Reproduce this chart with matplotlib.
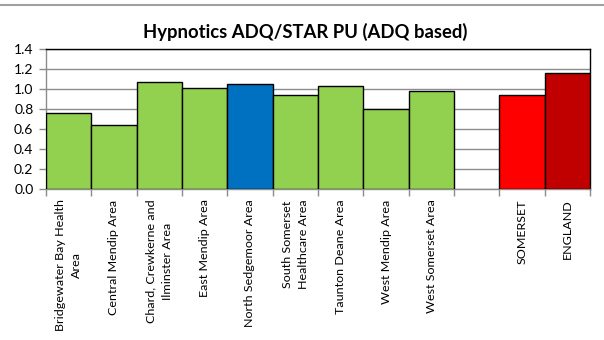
import matplotlib
matplotlib.use("Agg")
import matplotlib.pyplot as plt
from matplotlib.lines import Line2D

plt.rcParams['font.family'] = ['Lato', 'DejaVu Sans']

categories = ["Bridgewater Bay Health\nArea", "Central Mendip Area", "Chard, Crewkerne and\nIlminster Area",
              "East Mendip Area", "North Sedgemoor Area", "South Somerset\nHealthcare Area",
              "Taunton Deane Area", "West Mendip Area", "West Somerset Area", "", "SOMERSET", "ENGLAND"]
values = [0.76, 0.64, 1.07, 1.01, 1.05, 0.94, 1.03, 0.80, 0.98, None, 0.94, 1.16]
colors = ["#92D050"] * 4 + ["#0070C0"] + ["#92D050"] * 4 + ["#FFFFFF", "#FF0000", "#C00000"]
yticks = [0.0, 0.2, 0.4, 0.6, 0.8, 1.0, 1.2, 1.4]
title = "Hypnotics ADQ/STAR PU (ADQ based)"

W, H = 604, 340
fig = plt.figure(figsize=(W / 100, H / 100), dpi=100)
fig.patch.set_facecolor("white")
renderer = fig.canvas.get_renderer()


def fit_size(text, target_px, weight="normal"):
    t = fig.text(0, 0, text, fontsize=10, fontweight=weight)
    w = t.get_window_extent(renderer=renderer).width
    t.remove()
    return 10 * target_px / w


label_fs = min(fit_size("Central Mendip Area", 124), fit_size("Bridgewater Bay Health", 131))
title_fs = fit_size(title, 325, weight="bold")

fig.add_artist(Line2D([0, 1], [(H - 4.5) / H] * 2, transform=fig.transFigure,
                      color="#a0a0a0", linewidth=1.5))

ax = fig.add_axes([46 / W, (H - 189) / H, (590 - 46) / W, (189 - 49) / H])
n = len(categories)
xs = list(range(n))
for x, v, c in zip(xs, values, colors):
    if v is None:
        continue
    ax.bar(x, v, width=1.0, color=c, edgecolor="black", linewidth=1.0, zorder=3)

ax.set_xlim(-0.5, n - 0.5)
ax.set_ylim(0, 1.4)
ax.set_yticks(yticks)
ax.set_yticklabels([f"{t:.1f}" for t in yticks], fontsize=10)
ax.yaxis.grid(True, color="#8c8c8c", linewidth=1.0, zorder=0)
ax.set_axisbelow(True)

ax.set_xticks(xs)
ax.set_xticklabels(categories, rotation=90, fontsize=label_fs, ha="center", va="top", linespacing=1.6)
ax.tick_params(axis="x", which="major", length=0, pad=7.5)
ax.set_xticks([i - 0.5 for i in range(n + 1)], minor=True)
ax.tick_params(axis="x", which="minor", length=5, color="#8c8c8c", width=1)
ax.tick_params(axis="y", length=5, color="#8c8c8c", width=1, pad=4)

ax.spines["left"].set_color("#8c8c8c")
ax.spines["bottom"].set_color("#8c8c8c")
ax.spines["top"].set_color("black")
ax.spines["right"].set_color("black")
for s in ax.spines.values():
    s.set_linewidth(1.0)

fig.text(305 / W, (H - 32) / H, title, ha="center", va="center", fontsize=title_fs, fontweight="bold")

fig.savefig("out.png", dpi=100)
